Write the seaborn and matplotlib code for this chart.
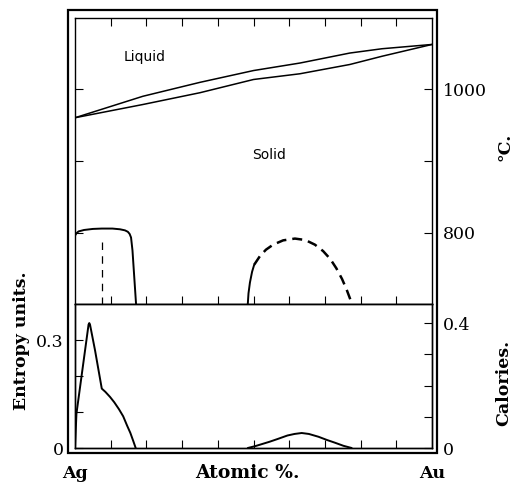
"""Ag-Au phase diagram with entropy / heat curves below."""
import matplotlib.pyplot as plt
import matplotlib.patches as mpatches
import seaborn as sns

# liquidus and solidus (deg C against atomic % Au)
liq_x = [0, 19, 35, 50, 63, 77, 86, 100]
liq_t = [960.5, 990.5, 1010, 1026.5, 1037, 1051, 1057, 1063]
sol_x = [0, 19, 35, 50, 63, 77, 86, 100]
sol_t = [960.5, 979, 995.5, 1014, 1022, 1035, 1046.5, 1063]

# transformation curve near Ag
ag_x = [0, 0.4, 1.0, 2.5, 5.0, 7.5, 10.5, 12.6, 14.0, 14.8, 15.3, 15.7,
        16.1, 16.5, 17.1]
ag_t = [795.5, 799, 801.5, 803.5, 805, 805.5, 805.5, 804.5, 803, 801, 798,
        793, 775, 745, 700]
ag_dash_x = [7.5, 7.5]
ag_dash_t = [787, 700]

# ordering dome
dome_solid_x = [48.4, 48.6, 49.0, 49.6, 50.2]
dome_solid_t = [700, 715, 730, 745, 755]
dome_dash_x = [50.2, 51.8, 53.5, 55.5, 58.3, 61.6, 64.5, 67.2, 69.5, 71.5,
               73.2, 74.8, 76.1, 77.0, 77.6]
dome_dash_t = [755, 767, 776, 783, 789, 791.5, 789.5, 783, 774, 763, 750,
               735, 720, 708, 700]

# entropy curve (left axis, entropy units)
ent_x = [0, 0.4, 3.8, 4.0, 4.2, 5.6, 7.5, 8.5, 9.8, 11.0, 12.3, 13.5, 14.6,
         15.5, 16.3, 17.0]
ent_s = [0, 0.095, 0.343, 0.347, 0.343, 0.272, 0.165, 0.156, 0.142, 0.127,
         0.108, 0.088, 0.062, 0.042, 0.020, 0]

# heat curve (right axis, calories)
cal_x = [48.4, 50.5, 52.5, 54.5, 56.8, 59.5, 61.5, 63.5, 65.5, 68.2, 70.5,
         72.8, 75.2, 77.5]
cal_q = [0, 0.006, 0.013, 0.020, 0.029, 0.040, 0.045, 0.048, 0.045, 0.036,
         0.026, 0.017, 0.007, 0]

W, H = 513, 486


def box(x0, y0, x1, y1):
    return [x0 / W, 1 - y1 / H, (x1 - x0) / W, (y1 - y0) / H]


sns.set_style("ticks", {"xtick.direction": "in", "ytick.direction": "in",
                        "axes.edgecolor": "black", "text.color": "black",
                        "xtick.color": "black", "ytick.color": "black"})
plt.rcParams["font.family"] = ["DejaVu Serif"]

fig = plt.figure(figsize=(W / 100, H / 100), dpi=100)
ax_t = fig.add_axes(box(75, 18, 432, 304))
ax_b = fig.add_axes(box(75, 304, 432, 448))
ax_c = ax_b.twinx()

line = dict(color="black", estimator=None, sort=False, legend=False)

# top panel
sns.lineplot(x=liq_x, y=liq_t, ax=ax_t, lw=1.1, **line)
sns.lineplot(x=sol_x, y=sol_t, ax=ax_t, lw=1.1, **line)
sns.lineplot(x=ag_x, y=ag_t, ax=ax_t, lw=1.4, **line)
sns.lineplot(x=ag_dash_x, y=ag_dash_t, ax=ax_t, lw=0.9, ls=(0, (6, 5)), **line)
sns.lineplot(x=dome_solid_x, y=dome_solid_t, ax=ax_t, lw=1.4, **line)
sns.lineplot(x=dome_dash_x, y=dome_dash_t, ax=ax_t, lw=1.8,
             ls=(0, (4, 2.4)), **line)

ax_t.set_xlim(0, 100)
ax_t.set_ylim(700, 1100)
ax_t.set_xticks(range(10, 100, 10))
ax_t.tick_params(axis="x", top=True, bottom=True, labelbottom=False,
                 length=5.8, width=0.8)
ax_t.set_yticks([800, 900, 1000], ["800", "", "1000"])
ax_t.tick_params(axis="y", left=True, right=True, labelleft=False,
                 labelright=True, length=5.8, width=0.8, pad=8, labelsize=12.5)
ax_t.set_xlabel("")
ax_t.set_ylabel("")
ax_t.text(19.6, 1045, "Liquid", family="DejaVu Sans", fontsize=10,
          ha="center", va="center")
ax_t.text(54.3, 908, "Solid", family="DejaVu Sans", fontsize=10,
          ha="center", va="center")

# bottom panel
sns.lineplot(x=ent_x, y=ent_s, ax=ax_b, lw=1.4, **line)
sns.lineplot(x=cal_x, y=cal_q, ax=ax_c, lw=1.4, **line)

ax_b.set_xlim(0, 100)
ax_b.set_ylim(0, 0.4)
ax_b.set_xticks([0, 100], ["Ag", "Au"])
ax_b.set_xticks(range(10, 100, 10), minor=True)
ax_b.tick_params(axis="x", which="major", length=0, pad=12.5, labelsize=12.5)
for lab in ax_b.get_xticklabels():
    lab.set_fontweight("bold")
ax_b.tick_params(axis="x", which="minor", length=5.8, width=0.8)
ax_b.set_yticks([0, 0.1, 0.2, 0.3], ["0", "", "", "0.3"])
ax_b.tick_params(axis="y", length=5.8, width=0.8, pad=8, labelsize=12.5)
ax_b.set_xlabel("")
ax_b.set_ylabel("")

ax_c.set_ylim(0, 0.461)
ax_c.set_yticks([0, 0.1, 0.2, 0.3, 0.4], ["0", "", "", "", "0.4"])
ax_c.tick_params(axis="y", length=5.8, width=0.8, pad=8, labelsize=12.5)
ax_c.set_ylabel("")

for ax in (ax_t, ax_b, ax_c):
    for sp in ax.spines.values():
        sp.set_linewidth(1.0)

# outer frame
fig.add_artist(mpatches.Rectangle((68 / W, 1 - 453 / H), 369 / W, 443 / H,
                                  transform=fig.transFigure, fill=False,
                                  lw=1.6, ec="black"))

bold = dict(fontsize=12.5, fontweight="bold", ha="center", va="center")
fig.text(22 / W, 1 - 341 / H, "Entropy units.", rotation=90, **bold)
fig.text(505 / W, 1 - 147 / H, "°C.", rotation=90, **bold)
fig.text(504 / W, 1 - 383 / H, "Calories.", rotation=90, **bold)
fig.text(247 / W, 1 - 473 / H, "Atomic %.", fontsize=13.5, fontweight="bold",
         ha="center", va="center")

fig.savefig("out.png", dpi=100)
plt.close(fig)
